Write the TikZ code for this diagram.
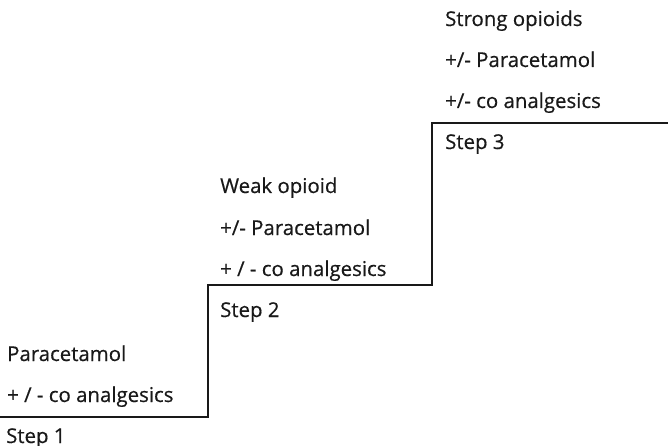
\documentclass[tikz,border=0pt]{standalone}
\usepackage{fontspec}
\setmainfont{Open Sans}
\newfontface\lblfont{Open Sans}[RawFeature={embolden=0.5}]
\begin{document}
\begin{tikzpicture}[x=1pt,y=-1pt,
  lbl/.style={anchor=base west,inner sep=0pt,font=\lblfont\fontsize{20.4}{22}\selectfont,text=black!90},
  stair/.style={line width=2.6pt,black!90}]
\useasboundingbox (0,0) rectangle (668,446);
% staircase corners
\coordinate (s0) at (0,417);
\coordinate (s1) at (208,417);
\coordinate (s2) at (208,285);
\coordinate (s3) at (432,285);
\coordinate (s4) at (432,123);
\coordinate (s5) at (668,123);
\draw[stair] (s0) -- (s1) -- (s2) -- (s3) -- (s4) -- (s5);
% step 1
\node[lbl] (p1a) at (7,361) {Paracetamol};
\node[lbl] (p1b) at (7,402) {+ / - co analgesics};
\node[lbl] (st1) at (6,443) {Step 1};
% step 2
\node[lbl] (p2a) at (220,193) {Weak opioid};
\node[lbl] (p2b) at (220,235) {+/- Paracetamol};
\node[lbl] (p2c) at (220,276) {+ / - co analgesics};
\node[lbl] (st2) at (220,317) {Step 2};
% step 3
\node[lbl] (p3a) at (445,26) {Strong opioids};
\node[lbl] (p3b) at (445,67) {+/- Paracetamol};
\node[lbl] (p3c) at (445,108) {+/- co analgesics};
\node[lbl] (st3) at (445,149) {Step 3};
\end{tikzpicture}
\end{document}
